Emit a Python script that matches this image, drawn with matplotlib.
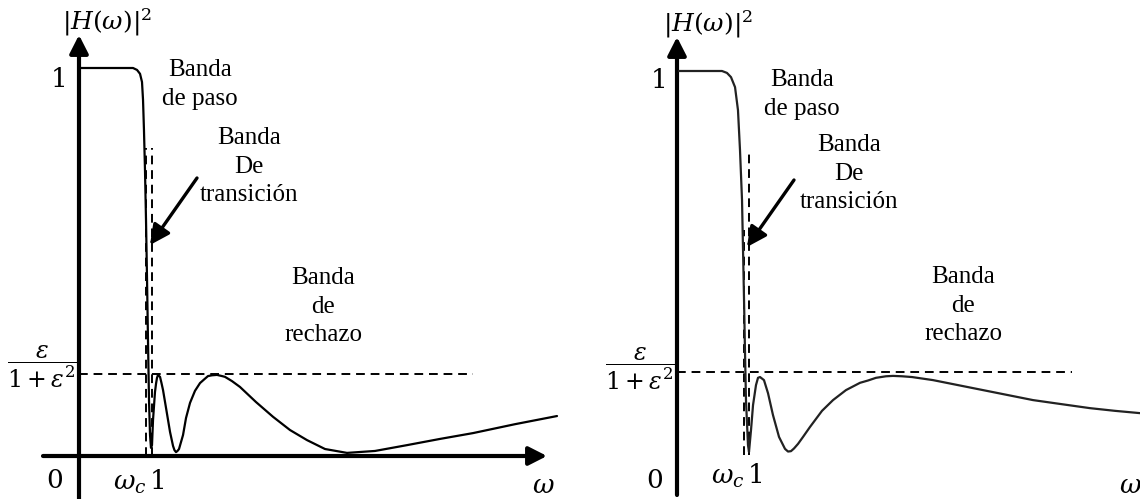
import matplotlib
matplotlib.use("Agg")
import matplotlib.pyplot as plt

W, H = 1140, 499

# |H(w)|^2 of the two low-pass sketches, w normalised so that the cutoff is 1
left_w = [0.02, 0.74, 0.795, 0.836, 0.863, 0.877, 0.890, 0.904, 0.918, 0.932,
          0.945, 0.959, 0.973, 0.986, 1.0, 1.014, 1.041, 1.055, 1.068, 1.082,
          1.110, 1.130, 1.151, 1.192, 1.247, 1.288, 1.308, 1.329, 1.349, 1.370,
          1.425, 1.466, 1.521, 1.589, 1.658, 1.712, 1.767, 1.822, 1.890, 1.959,
          2.0, 2.096, 2.205, 2.425, 2.658, 2.890, 3.123, 3.370, 3.671, 4.055,
          4.493, 4.945, 5.397, 5.973, 6.548]
left_h = [1.0, 1.0, 0.995, 0.985, 0.964, 0.918, 0.840, 0.737, 0.608, 0.454,
          0.299, 0.144, 0.054, 0.021, 0.028, 0.093, 0.165, 0.186, 0.201, 0.209,
          0.204, 0.188, 0.170, 0.124, 0.062, 0.026, 0.015, 0.010, 0.013, 0.018,
          0.054, 0.098, 0.137, 0.168, 0.188, 0.197, 0.206, 0.208, 0.209, 0.206,
          0.204, 0.193, 0.178, 0.139, 0.101, 0.067, 0.041, 0.018, 0.008, 0.013,
          0.028, 0.044, 0.059, 0.082, 0.103]

right_w = [0.028, 0.625, 0.694, 0.75, 0.806, 0.847, 0.875, 0.903, 0.917, 0.931,
           0.944, 0.958, 0.986, 1.0, 1.028, 1.056, 1.097, 1.125, 1.153, 1.181,
           1.208, 1.264, 1.333, 1.417, 1.5, 1.542, 1.583, 1.625, 1.681, 1.75,
           1.847, 2.014, 2.167, 2.347, 2.542, 2.653, 2.764, 2.903, 3.0, 3.125,
           3.264, 3.556, 3.903, 4.25, 4.597, 4.944, 5.319, 5.736, 6.083, 6.431]
right_h = [1.0, 1.0, 0.995, 0.984, 0.958, 0.898, 0.794, 0.664, 0.534, 0.404,
           0.273, 0.143, 0.026, 0.008, 0.065, 0.130, 0.182, 0.201, 0.203, 0.199,
           0.195, 0.161, 0.104, 0.047, 0.016, 0.009, 0.010, 0.017, 0.029, 0.047,
           0.073, 0.115, 0.143, 0.169, 0.188, 0.194, 0.201, 0.205, 0.206, 0.205,
           0.203, 0.195, 0.182, 0.169, 0.156, 0.143, 0.133, 0.122, 0.115, 0.109]

# stopband level eps/(1+eps^2) and the two marked frequencies (w_c, 1)
left_eps = 0.211
right_eps = 0.216
left_marks = [0.918, 1.0]
right_marks = [0.931, 1.0]

band_labels = ["Banda\nde paso", "Banda\nDe\ntransición", "Banda\nde\nrechazo"]
y_label = r"$|H(\omega)|^2$"
eps_label = r"$\dfrac{\varepsilon}{1+\varepsilon^2}$"
tick_labels = [r"$0$", r"$1$", r"$\omega_c\,1$", r"$\omega$"]

plt.rcParams["mathtext.fontset"] = "dejavuserif"
plt.rcParams["font.family"] = ["Liberation Serif", "DejaVu Serif"]

fig = plt.figure(figsize=(W / 100, H / 100), dpi=100)


def fig_xy(px, py):
    return px / W, 1 - py / H


def draw_panel(p, w, h, eps, marks):
    ax = fig.add_axes([p["left"] / W, 0, (p["right"] - p["left"]) / W, 1])
    ax.set_xlim((p["left"] - p["x0"]) / p["sx"], (p["right"] - p["x0"]) / p["sx"])
    ax.set_ylim((p["y0"] - H) / p["sy"], p["y0"] / p["sy"])
    ax.axis("off")

    def dx(px):
        return (px - p["x0"]) / p["sx"]

    def dy(py):
        return (p["y0"] - py) / p["sy"]

    axis_style = dict(arrowstyle="-|>,head_length=0.55,head_width=0.28",
                      lw=3, color="k", mutation_scale=20, shrinkA=0, shrinkB=0)
    ax.annotate("", xy=(0, dy(p["ytip"])), xytext=(0, dy(p["ybot"])),
                arrowprops=axis_style)
    ax.annotate("", xy=(dx(p["xtip"]), 0), xytext=(dx(p["xstart"]), 0),
                arrowprops=axis_style)

    dash = (0, (4.5, 3))
    ax.plot([0, dx(p["hdash_end"])], [eps, eps], color="k", lw=1.4, ls=dash)
    for m, top in zip(marks, p["vdash_top"]):
        ax.plot([m, m], [0, dy(top)], color="k", lw=1.4, ls=dash)

    ax.plot(w, h, color=p["color"], lw=1.6, zorder=3,
            solid_capstyle="round", solid_joinstyle="round")

    ax.annotate("", xy=(dx(p["arrow"][2]), dy(p["arrow"][3])),
                xytext=(dx(p["arrow"][0]), dy(p["arrow"][1])),
                arrowprops=dict(arrowstyle="-|>,head_length=0.6,head_width=0.3",
                                lw=2.4, color="k", mutation_scale=20,
                                shrinkA=0, shrinkB=0))

    for text, (px, py) in zip(band_labels, p["bands"]):
        fig.text(*fig_xy(px, py), text, fontsize=18, ha="center", va="top",
                 multialignment="center", linespacing=1.39)

    fig.text(*fig_xy(*p["ylabel"]), y_label, fontsize=18, ha="center", va="center")
    fig.text(*fig_xy(*p["eps"]), eps_label, fontsize=17, ha="center", va="center")
    for text, (px, py) in zip(tick_labels, p["ticks"]):
        fig.text(*fig_xy(px, py), text, fontsize=19, ha="center", va="center")


left_panel = dict(left=0, right=570, x0=79, y0=456, sx=73, sy=388,
                  ytip=35, ybot=499, xtip=547, xstart=43, hdash_end=473,
                  vdash_top=[148, 148], color="k",
                  arrow=(197, 178, 150, 245),
                  bands=[(200, 59), (249, 127), (323, 267)],
                  ylabel=(107, 22), eps=(42, 367),
                  ticks=[(55, 482), (58, 80), (139, 482), (543, 487)])
right_panel = dict(left=570, right=1140, x0=677, y0=455, sx=72, sy=384,
                   ytip=37, ybot=495, xtip=1150, xstart=642, hdash_end=1072,
                   vdash_top=[230, 153], color="#222222",
                   arrow=(794, 180, 747, 247),
                   bands=[(802, 69), (849, 134), (963, 266)],
                   ylabel=(708, 24), eps=(640, 369),
                   ticks=[(655, 481), (658, 81), (737, 476), (1130, 487)])

draw_panel(left_panel, left_w, left_h, left_eps, left_marks)
draw_panel(right_panel, right_w, right_h, right_eps, right_marks)

fig.savefig("out.png", dpi=100)
